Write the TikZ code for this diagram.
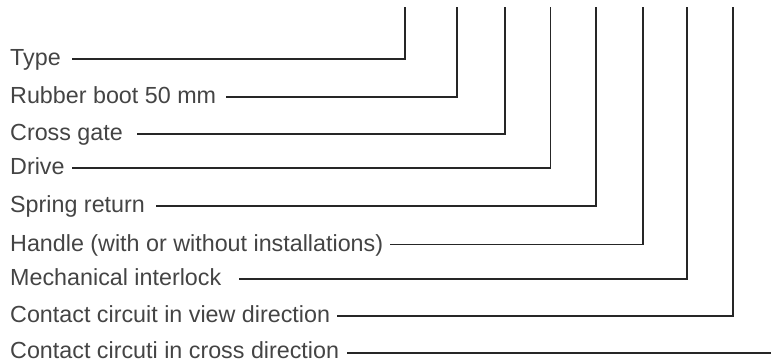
\documentclass[tikz,border=0pt]{standalone}
\usepackage{fontspec}
\setmainfont{Liberation Sans}
\definecolor{txtc}{HTML}{444444}
\definecolor{linec}{HTML}{262626}
\begin{document}
\begin{tikzpicture}[x=1pt,y=-1pt,
  lbl/.style={anchor=base west,inner sep=0pt,text=txtc,font=\fontsize{23.3}{26}\selectfont},
  leader/.style={draw=linec,line width=1.9pt}]
\useasboundingbox (0,0) rectangle (771,362);
% labels
\node[lbl] (l1) at (10,65.5) {Type};
\node[lbl] (l2) at (10,103.5) {Rubber boot 50 mm};
\node[lbl] (l3) at (10,140.5) {Cross gate};
\node[lbl] (l4) at (10,174.5) {Drive};
\node[lbl] (l5) at (10,212.5) {Spring return};
\node[lbl] (l6) at (10,251) {Handle (with or without installations)};
\node[lbl] (l7) at (10,285.5) {Mechanical interlock};
\node[lbl] (l8) at (10,322.5) {Contact circuit in view direction};
\node[lbl,text depth=0pt] (l9) at (10,358) {Contact circuti in cross direction};
% leader start points
\coordinate (s1) at (72,59);
\coordinate (s2) at (226,97);
\coordinate (s3) at (137,134);
\coordinate (s4) at (72,168);
\coordinate (s5) at (156,206);
\coordinate (s6) at (390,244.5);
\coordinate (s7) at (239,279);
\coordinate (s8) at (337,316);
\coordinate (s9) at (347,353);
% leader top ends
\coordinate (t1) at (405,7);
\coordinate (t2) at (457,7);
\coordinate (t3) at (505,7);
\coordinate (t4) at (550.5,7);
\coordinate (t5) at (596,7);
\coordinate (t6) at (643,7);
\coordinate (t7) at (687,7);
\coordinate (t8) at (733,7);
\coordinate (t9) at (771,353);
% leaders
\foreach \i in {1,...,8} {
  \draw[leader] (s\i) -| (t\i);
}
\draw[leader] (s9) -- (t9);
\end{tikzpicture}
\end{document}
